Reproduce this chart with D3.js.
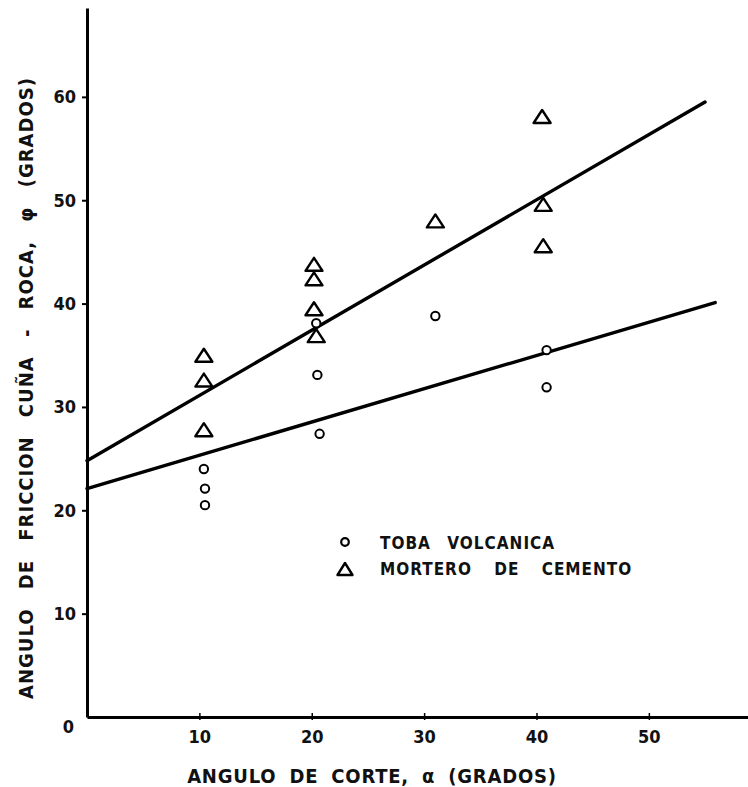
<!DOCTYPE html>
<html>
<head>
<meta charset="utf-8">
<script src="https://cdn.jsdelivr.net/npm/d3@7"></script>
<style>
  body { margin: 0; background: #fff; }
  text { font-family: "DejaVu Sans Condensed", "Liberation Sans", sans-serif; fill: #111; }
</style>
</head>
<body>
<div id="chart"></div>
<script>
// DATA
var tobaX = [10.4, 10.5, 10.5, 20.4, 20.5, 20.7, 31.0, 40.9, 40.9];
var tobaY = [24.0, 22.1, 20.5, 38.1, 33.1, 27.4, 38.8, 35.5, 31.9];

var morteroX = [10.4, 10.4, 10.4, 20.2, 20.2, 20.2, 20.4, 31.0, 40.5, 40.6, 40.6];
var morteroY = [35.0, 32.6, 27.8, 43.8, 42.4, 39.5, 36.9, 48.0, 58.1, 49.6, 45.6];

// fitted lines (end points)
var tobaLineX = [0, 55.9];
var tobaLineY = [22.1, 40.1];
var morteroLineX = [0, 55.0];
var morteroLineY = [24.8, 59.5];

var xTicks = [10, 20, 30, 40, 50];
var yTicks = [0, 10, 20, 30, 40, 50, 60];

var width = 748;
var height = 787;
var font = "DejaVu Sans Condensed, Liberation Sans, sans-serif";

var svg = d3.select("#chart").append("svg")
  .attr("width", width)
  .attr("height", height);

// scales
var x = d3.scaleLinear().domain([0, 59]).range([87, 750]);
var y = d3.scaleLinear().domain([0, 68.6]).range([717, 8]);

// x axis
var xAxis = d3.axisBottom(x).tickValues(xTicks).tickSize(3).tickSizeOuter(0);
var gx = svg.append("g")
  .attr("transform", "translate(0," + y(0) + ")")
  .call(xAxis);
gx.select(".domain").attr("stroke", "#000").attr("stroke-width", 3);
gx.selectAll(".tick line").attr("stroke", "#000").attr("stroke-width", 1.5).attr("y1", -4);
gx.selectAll(".tick text")
  .attr("dy", 0)
  .attr("y", 26)
  .style("font-size", "18px")
  .style("font-weight", "bold")
  .style("font-family", font);

// y axis (0 label handled separately, sits below the corner)
var yAxis = d3.axisLeft(y).tickValues(yTicks.filter(function(d) { return d > 0; }))
  .tickSize(6).tickSizeOuter(0);
var gy = svg.append("g")
  .attr("transform", "translate(" + x(0) + ",0)")
  .call(yAxis);
gy.select(".domain").attr("stroke", "#000").attr("stroke-width", 3);
gy.selectAll(".tick line").attr("stroke", "#000").attr("stroke-width", 2).attr("x2", -5).attr("x1", 2);
gy.selectAll(".tick text")
  .attr("x", -11)
  .style("font-size", "18px")
  .style("font-weight", "bold")
  .style("font-family", font);

svg.append("text")
  .attr("x", x(0) - 13)
  .attr("y", y(0) + 16)
  .attr("text-anchor", "end")
  .style("font-size", "18px")
  .style("font-weight", "bold")
  .text(yTicks[0]);

// regression lines
var line = d3.line()
  .x(function(d) { return x(d[0]); })
  .y(function(d) { return y(d[1]); });

svg.append("path")
  .attr("d", line(d3.zip(morteroLineX, morteroLineY)))
  .attr("fill", "none")
  .attr("stroke", "#000")
  .attr("stroke-width", 3.4)
  .attr("stroke-linecap", "round");

svg.append("path")
  .attr("d", line(d3.zip(tobaLineX, tobaLineY)))
  .attr("fill", "none")
  .attr("stroke", "#000")
  .attr("stroke-width", 3.4)
  .attr("stroke-linecap", "round");

// flat triangle marker, w wide and h tall, centred on its box
function triPath(w, h) {
  return "M0," + (-h / 2) + "L" + (w / 2) + "," + (h / 2) + "L" + (-w / 2) + "," + (h / 2) + "Z";
}

svg.selectAll("path.tri").data(d3.zip(morteroX, morteroY))
  .enter().append("path")
  .attr("class", "tri")
  .attr("d", triPath(17, 13))
  .attr("transform", function(d) { return "translate(" + x(d[0]) + "," + y(d[1]) + ")"; })
  .attr("fill", "#fff")
  .attr("stroke", "#000")
  .attr("stroke-width", 2.4)
  .attr("stroke-linejoin", "round");

// circles
svg.selectAll("circle.toba").data(d3.zip(tobaX, tobaY))
  .enter().append("circle")
  .attr("class", "toba")
  .attr("cx", function(d) { return x(d[0]); })
  .attr("cy", function(d) { return y(d[1]); })
  .attr("r", 4.2)
  .attr("fill", "#fff")
  .attr("stroke", "#000")
  .attr("stroke-width", 2);

// legend
svg.append("circle")
  .attr("cx", 345).attr("cy", 542).attr("r", 3.8)
  .attr("fill", "#fff").attr("stroke", "#000").attr("stroke-width", 2.2);
svg.append("text")
  .attr("x", 380).attr("y", 549)
  .style("font-size", "17px")
  .style("font-weight", "bold")
  .style("letter-spacing", "1px")
  .style("word-spacing", "10px")
  .text("TOBA VOLCANICA");

svg.append("path")
  .attr("d", triPath(15, 12))
  .attr("transform", "translate(345,569)")
  .attr("fill", "#fff").attr("stroke", "#000").attr("stroke-width", 2.4)
  .attr("stroke-linejoin", "round");
svg.append("text")
  .attr("x", 380).attr("y", 575)
  .style("font-size", "17px")
  .style("font-weight", "bold")
  .style("letter-spacing", "1px")
  .style("word-spacing", "16px")
  .text("MORTERO DE CEMENTO");

// axis titles
svg.append("text")
  .attr("x", 372)
  .attr("y", 783)
  .attr("text-anchor", "middle")
  .style("font-size", "20px")
  .style("font-weight", "bold")
  .style("letter-spacing", "0.8px")
  .style("word-spacing", "6px")
  .text("ANGULO DE CORTE, \u03B1 (GRADOS)");

svg.append("text")
  .attr("transform", "translate(33,388) rotate(-90)")
  .attr("text-anchor", "middle")
  .style("font-size", "20px")
  .style("font-weight", "bold")
  .style("letter-spacing", "1px")
  .style("word-spacing", "12px")
  .text("ANGULO DE FRICCION CUÑA - ROCA, \u03C6 (GRADOS)");
</script>
</body>
</html>
